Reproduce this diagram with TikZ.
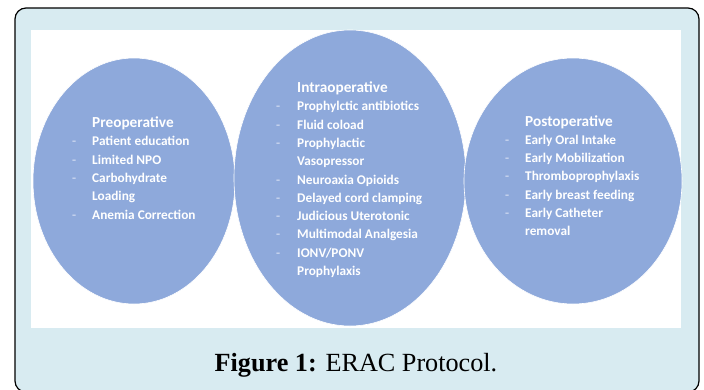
\documentclass[tikz,border=0pt]{standalone}
\usepackage{fontspec}
\setmainfont{Liberation Serif}
\newfontfamily\calibri{Carlito}
\usetikzlibrary{shapes.geometric}
\definecolor{framebg}{RGB}{216,235,241}
\definecolor{ovalblue}{RGB}{142,169,219}
\definecolor{dashcol}{RGB}{200,212,238}
\newcommand{\dsh}{\textcolor{dashcol}{-}}
\tikzset{
  oval/.style={ellipse, fill=ovalblue, draw=white, line width=0.6pt, inner sep=0pt},
  listtext/.style={text=white, inner sep=0pt, anchor=north west,
    font=\calibri\bfseries\fontsize{13.3}{18.3}\selectfont}
}
\begin{document}
\begin{tikzpicture}[x=1pt, y=-1pt]
  \useasboundingbox (0,0) rectangle (704,389);
  % frame and white panel
  \draw[fill=framebg, line width=1.2pt, rounded corners=11pt] (15,8) rectangle (699,392);
  \fill[white] (31,30) rectangle (681,328);
  % the three phases
  \node[oval, minimum width=202, minimum height=246] (pre) at (134,181) {};
  \node[oval, minimum width=232, minimum height=296] (intra) at (350,178) {};
  \node[oval, minimum width=218, minimum height=246] (post) at (573,181) {};
  % lists
  \node[listtext] (prelist) at (72,114.5) {\begin{tabular}{@{}p{20pt}@{}l@{}}
    & {\fontsize{15.3}{18.3}\selectfont Preoperative}\\
    \dsh & Patient education\\
    \dsh & Limited NPO\\
    \dsh & Carbohydrate\\
        & Loading\\
    \dsh & Anemia Correction
  \end{tabular}};
  \node[listtext] (intralist) at (276,79.5) {\begin{tabular}{@{}p{21pt}@{}l@{}}
    & {\fontsize{15.3}{18.3}\selectfont Intraoperative}\\
    \dsh & Prophylctic antibiotics\\
    \dsh & Fluid coload\\
    \dsh & Prophylactic\\
        & Vasopressor\\
    \dsh & Neuroaxia Opioids\\
    \dsh & Delayed cord clamping\\
    \dsh & Judicious Uterotonic\\
    \dsh & Multimodal Analgesia\\
    \dsh & IONV/PONV\\
        & Prophylaxis
  \end{tabular}};
  \node[listtext] (postlist) at (505,113) {\begin{tabular}{@{}p{20pt}@{}l@{}}
    & {\fontsize{15.3}{18.3}\selectfont Postoperative}\\
    \dsh & Early Oral Intake\\
    \dsh & Early Mobilization\\
    \dsh & Thromboprophylaxis\\
    \dsh & Early breast feeding\\
    \dsh & Early Catheter\\
        & removal
  \end{tabular}};
  % caption
  \node[font=\fontsize{26.2}{30}\selectfont] (caption) at (356,365) {\textbf{Figure 1:} ERAC Protocol.};
\end{tikzpicture}
\end{document}
